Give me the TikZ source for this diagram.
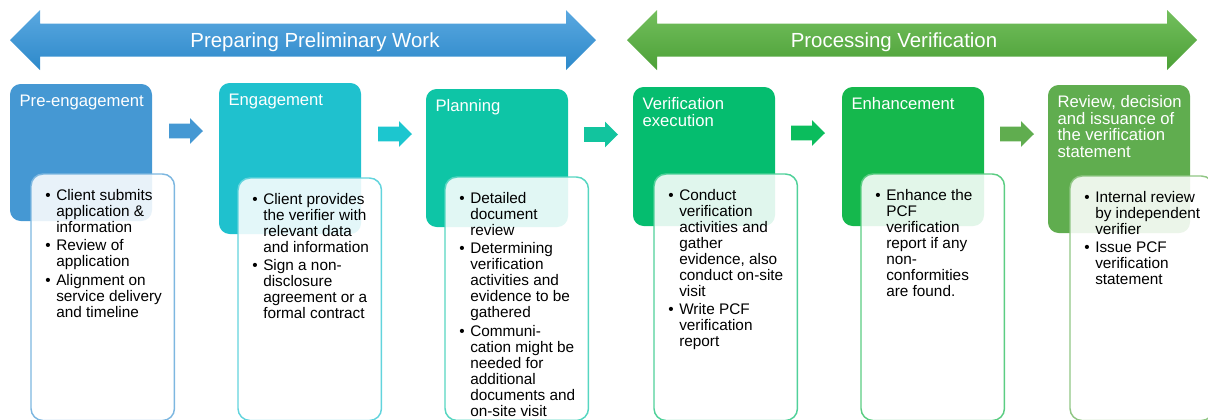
\documentclass[tikz,border=0pt]{standalone}
\usepackage{fontspec}
\setmainfont{Liberation Sans}
\definecolor{pcfBlue}{HTML}{4598D3}
\definecolor{pcfCyan}{HTML}{1FC1CE}
\definecolor{pcfTeal}{HTML}{0EC5A6}
\definecolor{pcfJade}{HTML}{05BD6F}
\definecolor{pcfGreen}{HTML}{15B84D}
\definecolor{pcfOlive}{HTML}{60AD4F}
\definecolor{pcfArrowB}{HTML}{1CC6CF}
\definecolor{pcfArrowC}{HTML}{12C49E}
\definecolor{pcfArrowD}{HTML}{0BBD5D}
\definecolor{pcfBannerBlueTop}{HTML}{5AA8E0}
\definecolor{pcfBannerBlueBot}{HTML}{2D89CA}
\definecolor{pcfBannerGreenTop}{HTML}{73BF5D}
\definecolor{pcfBannerGreenBot}{HTML}{4CA037}
\newcommand{\PcfTitleFont}{\fontsize{12.5}{12.4}\selectfont}
\newcommand{\PcfBodyFont}{\fontsize{11.5}{12}\selectfont}
\newcommand{\PcfBannerFont}{\fontsize{15.3}{18}\selectfont}
\newcommand{\pcfbullet}{\makebox[8.25pt][l]{\textbullet}}
\tikzset{
  pcf stage box/.style={
    rounded corners=8pt,
    minimum width=106.5pt,
    inner sep=0pt,
    outer sep=0pt,
    anchor=north west
  },
  pcf detail box/.style={
    rounded corners=9pt,
    minimum width=107.6pt,
    line width=1.1pt,
    fill=white,
    fill opacity=0.88,
    inner sep=0pt,
    outer sep=0pt,
    anchor=north west
  },
  pcf stage title/.style={
    font=\PcfTitleFont,
    text=white,
    align=left,
    inner sep=0pt,
    anchor=north west
  },
  pcf detail text/.style={
    font=\PcfBodyFont,
    text=black,
    inner sep=0pt,
    anchor=north west
  },
  pcf banner text/.style={
    font=\PcfBannerFont,
    text=white,
    anchor=base
  }
}

\begin{document}
\begin{tikzpicture}[x=0.75pt,y=-0.75pt]
\useasboundingbox (0,0) rectangle (1208,419);
\clip (0,0) rectangle (1208,419);

% phase banners
\shade[top color=pcfBannerBlueTop, bottom color=pcfBannerBlueBot]
  (10,40) -- (40,10) -- (40,23.5) -- (566,23.5) -- (566,10) -- (596,40)
  -- (566,70) -- (566,56.5) -- (40,56.5) -- (40,70) -- cycle;
\shade[top color=pcfBannerGreenTop, bottom color=pcfBannerGreenBot]
  (627,40) -- (657,10) -- (657,23.5) -- (1167,23.5) -- (1167,10) -- (1197,40)
  -- (1167,70) -- (1167,56.5) -- (657,56.5) -- (657,70) -- cycle;
\node[pcf banner text] (prepwork) at (315,47.5) {Preparing Preliminary Work};
\node[pcf banner text] (procverif) at (894,47.5) {Processing Verification};

% stage boxes
\node[pcf stage box, fill=pcfBlue, minimum height=102.75pt] (s1) at (10,84) {};
\node[pcf stage box, fill=pcfCyan, minimum height=113.25pt] (s2) at (219,83) {};
\node[pcf stage box, fill=pcfTeal, minimum height=103.5pt] (s3) at (426,89) {};
\node[pcf stage box, fill=pcfJade, minimum height=104.25pt] (s4) at (633,87) {};
\node[pcf stage box, fill=pcfGreen, minimum height=104.25pt] (s5) at (842,87) {};
\node[pcf stage box, fill=pcfOlive, minimum height=111pt] (s6) at (1048,85) {};

% block arrows between stages
\foreach \ax/\ay/\acol in {169/131/pcfBlue, 378/134/pcfArrowB, 584/134.5/pcfArrowC,
                           791/133/pcfArrowD, 1000/134/pcfOlive}
  \fill[\acol] (\ax,\ay) ++(0,-7.3) -- ++(21,0) -- ++(0,-5.5) -- ++(13,12.8)
    -- ++(-13,12.8) -- ++(0,-5.5) -- ++(-21,0) -- cycle;

% detail boxes
\node[pcf detail box, draw=pcfBlue!70!white, minimum height=184.9pt] (d1) at (31,174) {};
\node[pcf detail box, draw=pcfCyan!70!white, minimum height=181.9pt] (d2) at (238,178) {};
\node[pcf detail box, draw=pcfTeal!70!white, minimum height=182.6pt] (d3) at (445,177) {};
\node[pcf detail box, draw=pcfJade!70!white, minimum height=184.9pt] (d4) at (654,174) {};
\node[pcf detail box, draw=pcfGreen!70!white, minimum height=184.9pt] (d5) at (861,174) {};
\node[pcf detail box, draw=pcfOlive!70!white, minimum height=183.4pt] (d6) at (1070,176) {};

% stage titles
\node[pcf stage title] (s1title) at ([xshift=7pt,yshift=-7.9pt]s1.north west) {Pre-engagement};
\node[pcf stage title] (s2title) at ([xshift=7pt,yshift=-7.9pt]s2.north west) {Engagement};
\node[pcf stage title] (s3title) at ([xshift=7pt,yshift=-7.9pt]s3.north west) {Planning};
\node[pcf stage title] (s4title) at ([xshift=7pt,yshift=-7.9pt]s4.north west) {Verification\\execution};
\node[pcf stage title] (s5title) at ([xshift=7pt,yshift=-7.9pt]s5.north west) {Enhancement};
\node[pcf stage title] (s6title) at ([xshift=7pt,yshift=-7.9pt]s6.north west)
  {Review, decision\\and issuance of\\the verification\\statement};

% detail texts
\node[pcf detail text] (d1text) at ([xshift=10.5pt,yshift=-11.1pt]d1.north west)
  {\begin{tabular}{@{}l@{}l@{}}
   \pcfbullet & Client submits\\ & application \&\\ & information\\[2pt]
   \pcfbullet & Review of\\ & application\\[2pt]
   \pcfbullet & Alignment on\\ & service delivery\\ & and timeline
   \end{tabular}};
\node[pcf detail text] (d2text) at ([xshift=10.5pt,yshift=-11.1pt]d2.north west)
  {\begin{tabular}{@{}l@{}l@{}}
   \pcfbullet & Client provides\\ & the verifier with\\ & relevant data\\ & and information\\[2pt]
   \pcfbullet & Sign a non-\\ & disclosure\\ & agreement or a\\ & formal contract
   \end{tabular}};
\node[pcf detail text] (d3text) at ([xshift=10.5pt,yshift=-11.1pt]d3.north west)
  {\begin{tabular}{@{}l@{}l@{}}
   \pcfbullet & Detailed\\ & document\\ & review\\[2pt]
   \pcfbullet & Determining\\ & verification\\ & activities and\\ & evidence to be\\ & gathered\\[2pt]
   \pcfbullet & Communi-\\ & cation might be\\ & needed for\\ & additional\\ & documents and\\ & on-site visit
   \end{tabular}};
\node[pcf detail text] (d4text) at ([xshift=10.5pt,yshift=-11.1pt]d4.north west)
  {\begin{tabular}{@{}l@{}l@{}}
   \pcfbullet & Conduct\\ & verification\\ & activities and\\ & gather\\ & evidence, also\\ & conduct on-site\\ & visit\\[2pt]
   \pcfbullet & Write PCF\\ & verification\\ & report
   \end{tabular}};
\node[pcf detail text] (d5text) at ([xshift=10.5pt,yshift=-11.1pt]d5.north west)
  {\begin{tabular}{@{}l@{}l@{}}
   \pcfbullet & Enhance the\\ & PCF\\ & verification\\ & report if any\\ & non-\\ & conformities\\ & are found.
   \end{tabular}};
\node[pcf detail text] (d6text) at ([xshift=10.5pt,yshift=-11.1pt]d6.north west)
  {\begin{tabular}{@{}l@{}l@{}}
   \pcfbullet & Internal review\\ & by independent\\ & verifier\\[2pt]
   \pcfbullet & Issue PCF\\ & verification\\ & statement
   \end{tabular}};
\end{tikzpicture}
\end{document}
